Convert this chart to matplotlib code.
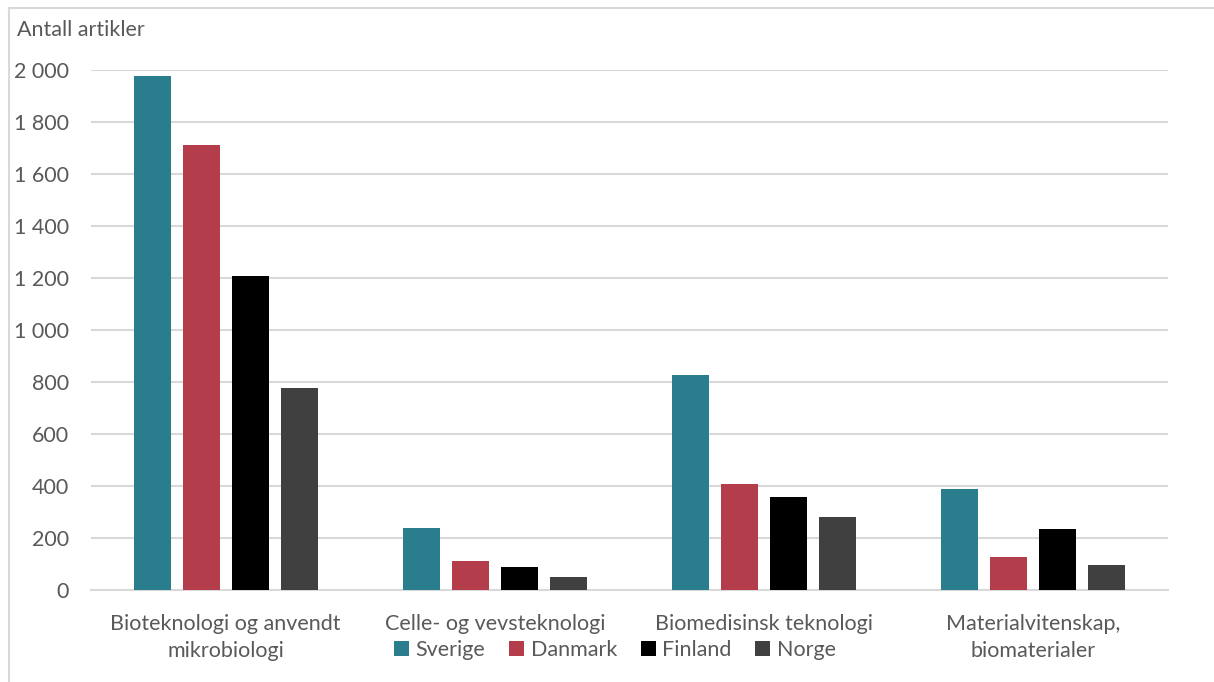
import matplotlib.pyplot as plt
import numpy as np
from matplotlib.lines import Line2D

plt.rcParams["font.family"] = ["Lato", "DejaVu Sans"]

categories = ["Bioteknologi og anvendt\nmikrobiologi", "Celle- og vevsteknologi",
              "Biomedisinsk teknologi", "Materialvitenskap,\nbiomaterialer"]
countries = ["Sverige", "Danmark", "Finland", "Norge"]
sverige = [1977, 238, 827, 388]
danmark = [1711, 112, 408, 127]
finland = [1208, 88, 358, 235]
norge = [777, 50, 281, 96]
colors = ["#2A7D8C", "#B33D4B", "#000000", "#404040"]

series = [sverige, danmark, finland, norge]
text_col = "#595959"
grid_col = "#D9D9D9"
fs = 15.5

fig = plt.figure(figsize=(12.14, 6.82), dpi=100)
ax = fig.add_axes([0.075, 0.1349, 0.887, 0.7625])

x = np.arange(len(categories))
step = 0.182
width = 0.138
for i, (vals, name, c) in enumerate(zip(series, countries, colors)):
    ax.bar(x + (i - 1.5) * step, vals, width, color=c, label=name, zorder=3)

ax.set_xlim(-0.5, len(categories) - 0.5)
ax.set_ylim(0, 2000)
ax.set_yticks(range(0, 2001, 200))
ax.set_yticklabels([f"{v:,}".replace(",", " ") for v in range(0, 2001, 200)])
ax.yaxis.grid(True, color=grid_col, linewidth=1.5, zorder=0)
for s in ["top", "right", "left"]:
    ax.spines[s].set_visible(False)
ax.spines["bottom"].set_color(grid_col)
ax.spines["bottom"].set_linewidth(1.5)
ax.tick_params(axis="y", length=0, pad=16, labelsize=fs, labelcolor=text_col)
ax.tick_params(axis="x", length=0, pad=17, labelsize=fs, labelcolor=text_col)
ax.set_xticks(x)
ax.set_xticklabels(categories, linespacing=1.45)

fig.text(17 / 1214, 1 - 30 / 682, "Antall artikler", fontsize=fs, color=text_col,
         ha="left", va="center")

leg = ax.legend(loc="center", bbox_to_anchor=(615 / 1214, 1 - 650 / 682),
                bbox_transform=fig.transFigure, ncol=4, frameon=False,
                fontsize=fs, handlelength=0.7, handleheight=0.7,
                handletextpad=0.3, columnspacing=1.1)
for t in leg.get_texts():
    t.set_color(text_col)

# outer frame
fig.add_artist(Line2D([9 / 1214, 1], [1 - 8 / 682] * 2, color=grid_col, lw=1.5,
                      transform=fig.transFigure))
fig.add_artist(Line2D([9 / 1214] * 2, [0, 1 - 8 / 682], color=grid_col, lw=1.5,
                      transform=fig.transFigure))

fig.savefig("out.png", dpi=100)
